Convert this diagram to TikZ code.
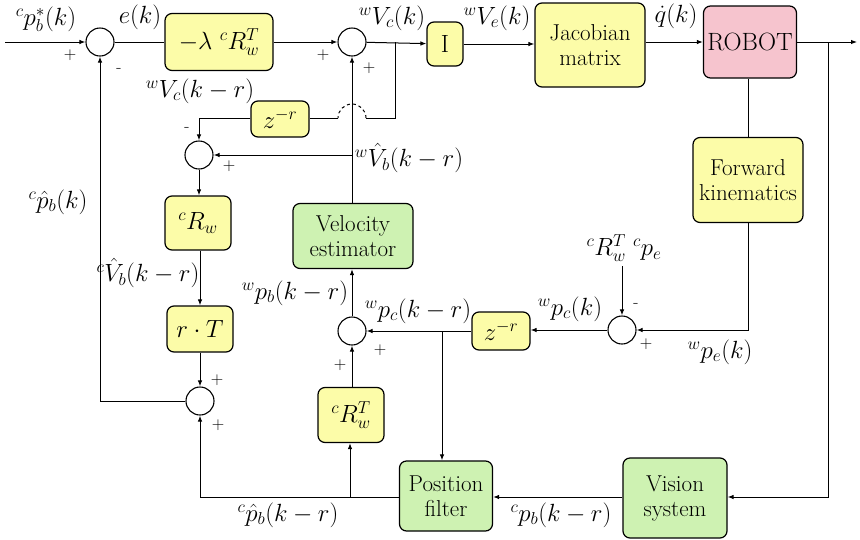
\documentclass[tikz,border=0pt]{standalone}
\usetikzlibrary{arrows.meta,calc}
\definecolor{ylw}{RGB}{252,252,168}
\definecolor{pnk}{RGB}{246,196,206}
\definecolor{grn}{RGB}{206,242,178}
\begin{document}
\begin{tikzpicture}[x=1pt,y=-1pt,
  blk/.style={draw, rounded corners=7pt, line width=1.2pt, fill=ylw, inner sep=0pt, align=center, font=\rmfamily\fontsize{23}{25}\selectfont},
  gblk/.style={blk, fill=grn},
  sumc/.style={circle, draw, line width=1.1pt, minimum size=28pt, inner sep=0pt},
  arr/.style={-{Latex[length=6pt,width=4.5pt]}, line width=1pt},
  ln/.style={line width=1pt},
  bm/.style={font=\fontsize{25}{26}\selectfont},
  lbl/.style={font=\fontsize{24}{25}\selectfont, inner sep=0pt},
  sgn/.style={font=\fontsize{17}{17}\selectfont, inner sep=0pt}]
\useasboundingbox (0,0) rectangle (860,539);
% blocks
\node[blk, bm, minimum width=108pt, minimum height=57pt] (gain) at (219,42) {$-\lambda\ {}^{c}R_w^{T}$};
\node[blk, bm, minimum width=36pt, minimum height=44pt] (I) at (445,44) {$\mathrm{I}$};
\node[blk, minimum width=110pt, minimum height=84pt] (jac) at (590,45) {Jacobian\\matrix};
\node[blk, fill=pnk, minimum width=93pt, minimum height=72pt] (robot) at (750,42) {\fontsize{25}{26}\selectfont ROBOT};
\node[blk, minimum width=110pt, minimum height=85pt] (fk) at (748,180) {Forward\\kinematics};
\node[blk, bm, minimum width=58pt, minimum height=36pt] (z1) at (280,119) {$z^{-r}$};
\node[blk, bm, minimum width=66pt, minimum height=54pt] (cRw) at (198,223) {$^{c}R_w$};
\node[blk, bm, minimum width=66pt, minimum height=46pt] (rT) at (200,329) {$r\cdot T$};
\node[gblk, minimum width=120pt, minimum height=65pt] (vel) at (353,236) {Velocity\\estimator};
\node[blk, bm, minimum width=58pt, minimum height=38pt] (z2) at (501,331) {$z^{-r}$};
\node[blk, bm, minimum width=66pt, minimum height=55pt] (cRwT) at (351,415) {$^{c}R_w^{T}$};
\node[gblk, minimum width=93pt, minimum height=70pt] (pf) at (446,496) {Position\\filter};
\node[gblk, minimum width=104pt, minimum height=80pt] (vis) at (675,498) {Vision\\system};
% summing junctions
\node[sumc] (s1) at (100,42) {};
\node[sumc] (s2) at (352,42) {};
\node[sumc] (s6) at (199,155) {};
\node[sumc] (s4) at (352,331) {};
\node[sumc] (s3) at (622,330) {};
\node[sumc] (s5) at (200,401) {};
% coordinates
\coordinate (in) at (5,42);
\coordinate (out) at (857,42);
\coordinate (b1) at (395,42);
\coordinate (b2) at (828,42);
\coordinate (b3) at (352,155);
\coordinate (b4) at (442,331);
\coordinate (b5) at (350,497);
\coordinate (ref) at (622,266);
\coordinate (dk1) at (366,118);
\coordinate (dk2) at (338,118);
% connectors
\draw[arr] (in) -- (s1);
\draw[ln] (s1) -- (gain);
\draw[arr] (gain) -- (s2);
\draw[arr] (s2) -- (I);
\draw[arr] (I) -- (jac.west |- I);
\draw[arr] (jac.east |- robot) -- (robot);
\draw[arr] (robot) -- (out);
\draw[arr] (b2) |- (vis.east |- b5);
\draw[ln] (robot.south -| fk) -- (fk);
\draw[arr] (fk.south) |- (s3);
\draw[arr] (ref) -- (s3);
\draw[arr] (s3) -- (z2.east |- s3);
\draw[arr] (z2.west |- s4) -- (s4);
\draw[arr] (b4) -- (pf.north -| b4);
\draw[arr] (vis.west |- b5) -- (pf.east |- b5);
\draw[arr] (pf.west |- b5) -| (s5);
\draw[arr] (b5) -- (cRwT.south -| b5);
\draw[arr] (cRwT.north -| s4) -- (s4);
\draw[arr] (s4) -- (vel.south -| s4);
\draw[arr] (vel.north -| s2) -- (s2);
\draw[arr] (b3) -- (s6);
\draw[arr] (s6) -- (cRw.north -| s6);
\draw[arr] (cRw.south -| rT) -- (rT);
\draw[arr] (rT) -- (s5);
\draw[arr] (s5) -| (s1);
\draw[ln] (b1) |- (dk1);
\draw[ln, dashed] (dk1) arc[start angle=0, end angle=180, radius=14pt];
\draw[ln] (dk2) -- (z1.east |- dk2);
\draw[arr] (z1.west |- dk2) -| (s6);
% labels
\node[lbl] (l1) at (46,19) {$^{c}p_b^{*}\bigl(k\bigr)$};
\node[lbl] (l2) at (140,17) {$e\bigl(k\bigr)$};
\node[lbl] (l3) at (392,18) {$^{w}V_c\bigl(k\bigr)$};
\node[lbl] (l4) at (497,18) {$^{w}V_e\bigl(k\bigr)$};
\node[lbl] (l5) at (676,16) {$\dot q(k)$};
\node[lbl] (l6) at (200,91) {$^{w}V_c\bigl(k-r\bigr)$};
\node[lbl] (l7) at (409,158) {$^{w}\hat V_b\bigl(k-r\bigr)$};
\node[lbl] (l8) at (58,202) {$^{c}\hat p_b\bigl(k\bigr)$};
\node[lbl] (l9) at (148,273) {$^{c}\hat V_b\bigl(k-r\bigr)$};
\node[lbl] (l10) at (295,293) {$^{w}p_b\bigl(k-r\bigr)$};
\node[lbl] (l11) at (418,311) {$^{w}p_c(k-r)$};
\node[lbl] (l12) at (570,309) {$^{w}p_c(k)$};
\node[lbl] (l13) at (624,248) {$^{c}R_w^{T}\ {}^{c}p_e$};
\node[lbl] (l14) at (720,352) {$^{w}p_e(k)$};
\node[lbl] (l15) at (288,515) {$^{c}\hat p_b\bigl(k-r\bigr)$};
\node[lbl] (l16) at (561,515) {$^{c}p_b\bigl(k-r\bigr)$};
% signs
\node[sgn] (g1) at (70,55) {$+$};
\node[sgn] (g2) at (119,70) {-};
\node[sgn] (g3) at (323,55) {$+$};
\node[sgn] (g4) at (369,68) {$+$};
\node[sgn] (g5) at (187,129) {-};
\node[sgn] (g6) at (229,166) {$+$};
\node[sgn] (g7) at (636,305) {-};
\node[sgn] (g8) at (646,344) {$+$};
\node[sgn] (g9) at (380,350) {$+$};
\node[sgn] (g10) at (340,365) {$+$};
\node[sgn] (g11) at (217,380) {$+$};
\node[sgn] (g12) at (218,425) {$+$};
\end{tikzpicture}
\end{document}
